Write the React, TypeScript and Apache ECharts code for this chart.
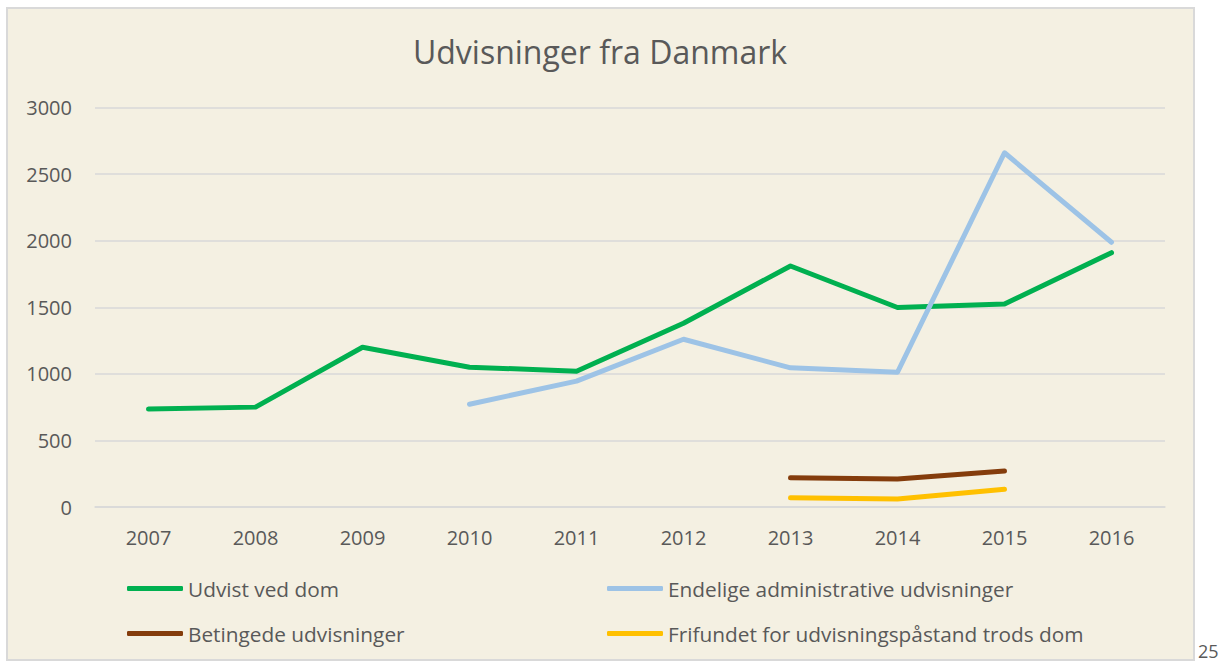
import React, { useEffect, useRef } from "react";
import * as echarts from "echarts";

const years = ["2007", "2008", "2009", "2010", "2011", "2012", "2013", "2014", "2015", "2016"];
const udvistVedDom = [735, 750, 1200, 1050, 1020, 1380, 1810, 1498, 1525, 1910];
const administrative = [null, null, null, 772, 945, 1260, 1045, 1012, 2660, 1988];
const betingede = [null, null, null, null, null, null, 220, 210, 270, null];
const frifundet = [null, null, null, null, null, null, 70, 60, 133, null];
const seriesNames = [
  "Udvist ved dom",
  "Endelige administrative udvisninger",
  "Betingede udvisninger",
  "Frifundet for udvisningspåstand trods dom",
];
const colors = ["#00B050", "#9DC3E6", "#843C0C", "#FFC000"];

const FONT = "'Open Sans', Lato, sans-serif";
const TXT = "#595959";

export default function App() {
  const ref = useRef<HTMLDivElement>(null);
  useEffect(() => {
    if (!ref.current) return;
    const chart = echarts.init(ref.current, null, { renderer: "svg" });
    const dataSets = [udvistVedDom, administrative, betingede, frifundet];
    const legendPos = [
      { left: 127, top: 578 },
      { left: 607, top: 578 },
      { left: 127, top: 623 },
      { left: 607, top: 623 },
    ];
    chart.setOption({
      animation: false,
      backgroundColor: "#ffffff",
      textStyle: { fontFamily: FONT },
      graphic: [
        {
          type: "rect",
          z: -10,
          silent: true,
          shape: { x: 7, y: 8, width: 1187, height: 652 },
          style: { fill: "#F4F0E2", stroke: "#D9D9D9", lineWidth: 2 },
        },
        {
          type: "text",
          left: 1198,
          top: 642,
          style: { text: "25", fill: TXT, font: `18px ${FONT}` },
        },
      ],
      title: {
        text: "Udvisninger fra Danmark",
        left: 595,
        textAlign: "center",
        top: 30,
        textStyle: { fontFamily: FONT, fontSize: 32, fontWeight: "normal", color: TXT },
      },
      legend: seriesNames.map((n, i) => ({
        data: [{ name: n, icon: "roundRect" }],
        left: legendPos[i].left,
        top: legendPos[i].top,
        padding: 0,
        itemWidth: 56,
        itemHeight: 5,
        itemGap: 4,
        itemStyle: { color: colors[i] },
        textStyle: { fontFamily: FONT, fontSize: 20.8, color: TXT },
      })),
      grid: { left: 95, right: 54, top: 107.5, bottom: 159 },
      xAxis: {
        type: "category",
        data: years,
        boundaryGap: true,
        axisLine: { lineStyle: { color: "#D9D9D9", width: 1.5 } },
        axisTick: { show: false },
        axisLabel: { color: TXT, fontSize: 20, fontFamily: FONT, margin: 20 },
      },
      yAxis: {
        type: "value",
        min: 0,
        max: 3000,
        interval: 500,
        axisLine: { show: false },
        axisTick: { show: false },
        splitLine: { lineStyle: { color: "#D9D9D9", width: 1.5 } },
        axisLabel: {
          color: TXT,
          fontSize: 20,
          fontFamily: FONT,
          margin: 23,
          formatter: (v: number) => String(v),
        },
      },
      series: seriesNames.map((n, i) => ({
        name: n,
        type: "line",
        data: dataSets[i],
        symbol: "none",
        connectNulls: false,
        color: colors[i],
        lineStyle: { color: colors[i], width: 5, cap: "round", join: "round" },
      })),
    });
    return () => chart.dispose();
  }, []);
  return (
    <div style={{ position: "fixed", left: 0, top: 0, width: 1219, height: 666 }}>
      <div ref={ref} style={{ width: 1219, height: 666 }} />
    </div>
  );
}
